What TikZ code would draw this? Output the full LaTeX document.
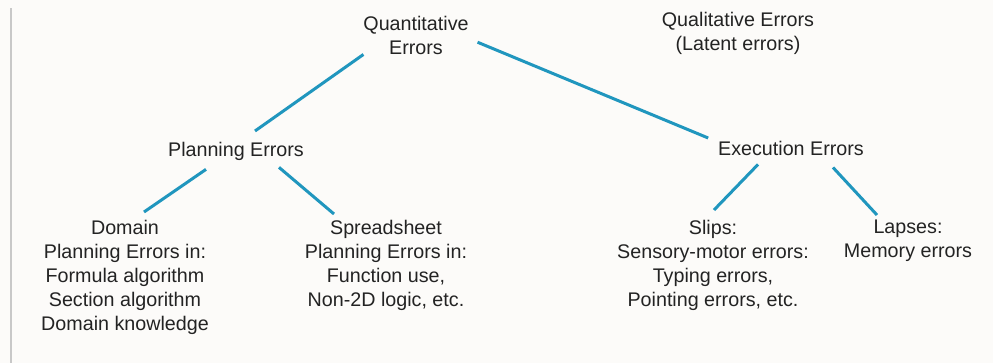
\documentclass[tikz,border=0pt]{standalone}
\usepackage{fontspec}
\setmainfont{Liberation Sans}
\definecolor{linkblue}{RGB}{32,150,190}
\definecolor{txtgray}{RGB}{35,35,35}
\definecolor{paper}{RGB}{252,251,249}
\definecolor{rulegray}{RGB}{200,200,200}
\begin{document}
\begin{tikzpicture}[x=0.5pt,y=-0.5pt,
  lbl/.style={anchor=north,inner sep=0pt,outer sep=0pt,align=center,text=txtgray,
    font={\fontsize{9.85}{12}\selectfont}},
  link/.style={draw=linkblue,line width=1.5pt}]
\fill[paper] (0,0) rectangle (993,363);
\draw[rulegray,line width=0.8pt] (11,8) -- (11,363);
% top level
\node[lbl] (quant) at (416,16) {Quantitative\\Errors};
\node[lbl] (qual) at (738,12) {Qualitative Errors\\(Latent errors)};
% second level
\node[lbl] (plan) at (236,142) {Planning Errors};
\node[lbl] (exec) at (791,141) {Execution Errors};
% leaves
\node[lbl] (domain) at (125,220) {Domain\\Planning Errors in:\\Formula algorithm\\Section algorithm\\Domain knowledge};
\node[lbl] (sheet) at (386,220) {Spreadsheet\\Planning Errors in:\\Function use,\\Non-2D logic, etc.};
\node[lbl] (slips) at (713,220) {Slips:\\Sensory-motor errors:\\Typing errors,\\Pointing errors, etc.};
\node[lbl] (lapses) at (908,220) {Lapses:\\Memory errors};
% links
\draw[link] (quant.south west) -- ([shift={(19,-11)}]plan.north);
\draw[link] ([shift={(9,7)}]quant.east) -- ([shift={(-10,-3)}]exec.north west);
\draw[link] ([shift={(-30,9)}]plan.south) -- ([shift={(19,-8)}]domain.north);
\draw[link] ([shift={(43,7)}]plan.south) -- ([shift={(-52,-6)}]sheet.north);
\draw[link] ([shift={(-33,9)}]exec.south) -- ([shift={(1,-10)}]slips.north);
\draw[link] ([shift={(42,12)}]exec.south) -- ([shift={(-31,-5)}]lapses.north);
\end{tikzpicture}
\end{document}
